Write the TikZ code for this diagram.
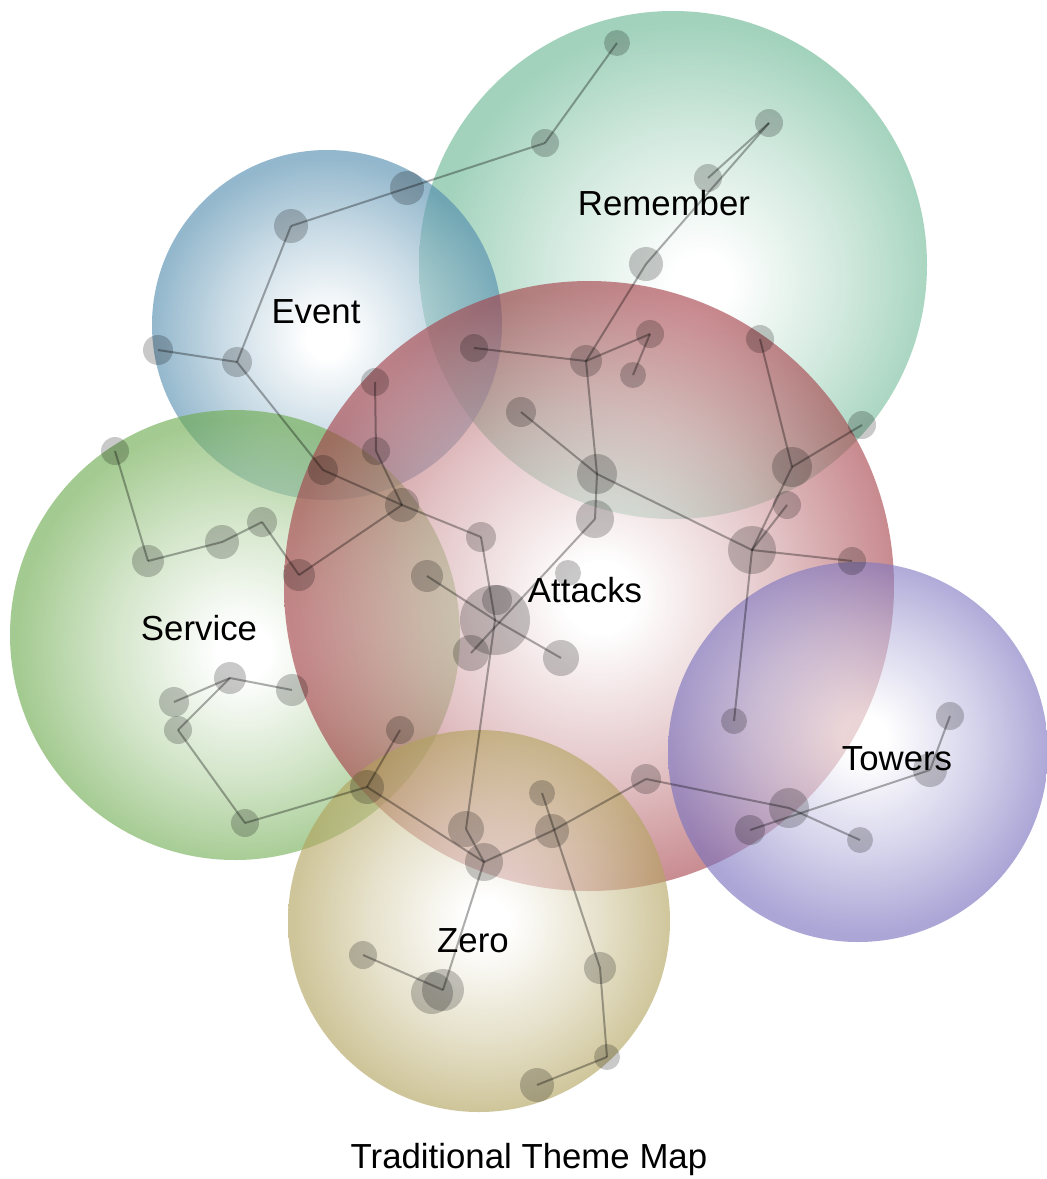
\documentclass[tikz,border=0pt]{standalone}
\usepackage{fontspec}
\setmainfont{Liberation Sans}
\definecolor{cRem}{RGB}{105,183,147}
\definecolor{cEve}{RGB}{82,140,174}
\definecolor{cSer}{RGB}{108,170,76}
\definecolor{cAtt}{RGB}{165,64,72}
\definecolor{cTow}{RGB}{120,112,190}
\definecolor{cZer}{RGB}{178,162,92}
\pgfdeclareradialshading{shRem}{\pgfpoint{3bp}{-2bp}}{color(0bp)=(white); color(3bp)=(white); color(15bp)=(cRem!50!white); color(25bp)=(cRem); color(50bp)=(cRem)}
\pgfdeclareradialshading{shEve}{\pgfpoint{0bp}{-2bp}}{color(0bp)=(white); color(3bp)=(white); color(15bp)=(cEve!50!white); color(25bp)=(cEve); color(50bp)=(cEve)}
\pgfdeclareradialshading{shSer}{\pgfpoint{1bp}{-2bp}}{color(0bp)=(white); color(3bp)=(white); color(15bp)=(cSer!50!white); color(25bp)=(cSer); color(50bp)=(cSer)}
\pgfdeclareradialshading{shAtt}{\pgfpoint{1bp}{-1bp}}{color(0bp)=(white); color(3bp)=(white); color(15bp)=(cAtt!50!white); color(25bp)=(cAtt); color(50bp)=(cAtt)}
\pgfdeclareradialshading{shTow}{\pgfpoint{1bp}{2bp}}{color(0bp)=(white); color(3bp)=(white); color(15bp)=(cTow!50!white); color(25bp)=(cTow); color(50bp)=(cTow)}
\pgfdeclareradialshading{shZer}{\pgfpoint{1bp}{0bp}}{color(0bp)=(white); color(3bp)=(white); color(15bp)=(cZer!50!white); color(25bp)=(cZer); color(50bp)=(cZer)}
\tikzset{
  bigc/.style={circle, inner sep=0pt, draw=none, shade, fill opacity=0.62},
  dotc/.style={circle, inner sep=0pt, draw=none, fill=black, fill opacity=0.21, minimum size=2*#1 pt},
  edge/.style={draw=black, draw opacity=0.32, line width=2pt},
  lbl/.style={anchor=base, inner sep=0pt, font=\fontsize{34.8}{40}\selectfont},
}
\begin{document}
\begin{tikzpicture}[x=1pt, y=-1pt]
\fill[white] (0,0) rectangle (1047,1179);
\useasboundingbox (0,0) rectangle (1047,1179);
% theme circles
\node[bigc, shading=shRem, minimum size=508pt] (Rem) at (673,265) {};
\node[bigc, shading=shEve, minimum size=350pt] (Eve) at (327,325) {};
\node[bigc, shading=shSer, minimum size=450pt] (Ser) at (235,635) {};
\node[bigc, shading=shAtt, minimum size=610pt] (Att) at (589,586) {};
\node[bigc, shading=shZer, minimum size=382pt] (Zer) at (479,921) {};
\node[bigc, shading=shTow, minimum size=380pt] (Tow) at (858,752) {};
% dots
\node[dotc=13] (d1) at (617,43) {};
\node[dotc=14] (d2) at (545,143) {};
\node[dotc=17] (d3) at (407,188) {};
\node[dotc=17] (d4) at (291,226) {};
\node[dotc=14] (d5) at (769,123) {};
\node[dotc=14] (d6) at (708,178) {};
\node[dotc=17] (d7) at (646,264) {};
\node[dotc=15] (d8) at (158,350) {};
\node[dotc=15] (d9) at (237,362) {};
\node[dotc=14] (d10) at (474,348) {};
\node[dotc=16] (d11) at (586,361) {};
\node[dotc=14] (d12) at (650,334) {};
\node[dotc=13] (d13) at (633,375) {};
\node[dotc=14] (d14) at (760,339) {};
\node[dotc=14] (d15) at (375,382) {};
\node[dotc=15] (d16) at (521,412) {};
\node[dotc=14] (d17) at (862,425) {};
\node[dotc=14] (d18) at (115,451) {};
\node[dotc=14] (d19) at (376,451) {};
\node[dotc=15] (d20) at (323,470) {};
\node[dotc=20] (d21) at (597,474) {};
\node[dotc=20] (d22) at (792,467) {};
\node[dotc=17] (d23) at (402,505) {};
\node[dotc=14] (d24) at (787,505) {};
\node[dotc=19] (d25) at (595,519) {};
\node[dotc=15] (d26) at (481,537) {};
\node[dotc=16] (d27) at (148,561) {};
\node[dotc=17] (d28) at (222,542) {};
\node[dotc=15] (d29) at (262,522) {};
\node[dotc=24] (d30) at (752,550) {};
\node[dotc=14] (d31) at (852,561) {};
\node[dotc=16] (d32) at (299,575) {};
\node[dotc=16] (d33) at (427,576) {};
\node[dotc=13] (d34) at (568,573) {};
\node[dotc=35] (d35) at (495,620) {};
\node[dotc=15] (d36) at (497,600) {};
\node[dotc=18] (d37) at (471,653) {};
\node[dotc=18] (d38) at (561,658) {};
\node[dotc=16] (d39) at (230,678) {};
\node[dotc=16] (d40) at (292,690) {};
\node[dotc=15] (d41) at (174,702) {};
\node[dotc=14] (d42) at (178,730) {};
\node[dotc=13] (d43) at (734,721) {};
\node[dotc=14] (d44) at (950,716) {};
\node[dotc=17] (d45) at (930,770) {};
\node[dotc=14] (d46) at (400,730) {};
\node[dotc=15] (d47) at (646,779) {};
\node[dotc=17] (d48) at (367,787) {};
\node[dotc=13] (d49) at (542,793) {};
\node[dotc=20] (d50) at (789,808) {};
\node[dotc=14] (d51) at (245,823) {};
\node[dotc=18] (d52) at (466,829) {};
\node[dotc=17] (d53) at (552,831) {};
\node[dotc=15] (d54) at (750,830) {};
\node[dotc=13] (d55) at (860,840) {};
\node[dotc=19] (d56) at (484,862) {};
\node[dotc=14] (d57) at (363,955) {};
\node[dotc=21] (d58) at (432,993) {};
\node[dotc=21] (d59) at (443,990) {};
\node[dotc=16] (d60) at (600,968) {};
\node[dotc=13] (d61) at (607,1057) {};
\node[dotc=17] (d62) at (537,1085) {};
% edges
\foreach \a/\b in {d1/d2, d2/d3, d3/d4, d4/d9, d9/d8, d9/d20, d20/d23, d23/d26, d26/d35,
  d23/d32, d32/d29, d29/d28, d28/d27, d27/d18, d15/d19, d19/d23,
  d10/d11, d11/d12, d12/d13, d11/d7, d7/d5, d6/d5, d11/d21, d21/d25, d25/d37,
  d16/d21, d21/d30, d30/d31, d14/d22, d22/d17, d22/d30, d24/d30, d30/d43,
  d33/d35, d35/d38, d35/d52, d52/d56, d56/d59, d59/d57,
  d48/d56, d48/d46, d48/d51, d51/d42, d42/d39, d39/d40, d39/d41,
  d56/d53, d53/d47, d47/d50, d50/d55, d54/d45, d45/d44,
  d49/d60, d60/d61, d61/d62}
  \draw[edge] (\a.center) -- (\b.center);
% labels
\node[lbl] (tRem) at (664,215) {Remember};
\node[lbl] (tEve) at (316,323) {Event};
\node[lbl] (tSer) at (199,640) {Service};
\node[lbl] (tAtt) at (585,602) {Attacks};
\node[lbl] (tTow) at (897,770) {Towers};
\node[lbl] (tZer) at (473,952) {Zero};
\node[lbl] (title) at (529,1168) {Traditional Theme Map};
\end{tikzpicture}
\end{document}
